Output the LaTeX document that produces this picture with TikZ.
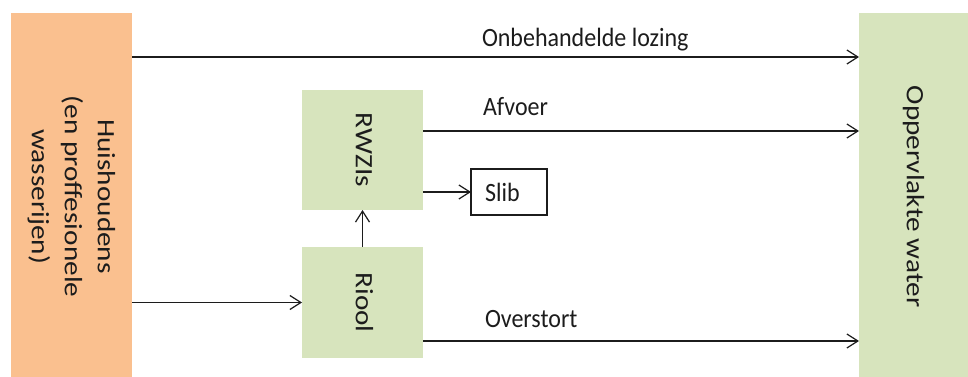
\documentclass[tikz,border=0pt]{standalone}
\usepackage{fontspec}
\usepackage{graphicx}
\setmainfont{Carlito}
\usetikzlibrary{arrows.meta}
\definecolor{orng}{HTML}{FAC08F}
\definecolor{grn}{HTML}{D7E4BD}
\definecolor{ink}{HTML}{1C1C1C}
\newcommand{\vtext}[1]{\rotatebox{-90}{\scalebox{1.17}[1]{\fontsize{25}{33}\selectfont\begin{tabular}{@{}c@{}}#1\end{tabular}}}}
\newcommand{\htext}[1]{\scalebox{1}[1.1]{\fontsize{24}{29}\selectfont #1}}
\begin{document}
\begin{tikzpicture}[x=1pt,y=-1pt,
  box/.style={rectangle, inner sep=0pt, outer sep=0pt, text=ink},
  flow/.style={draw=ink, line width=1.2pt, -{Straight Barb[length=11pt,width=14pt,line width=1.2pt]}},
  lbl/.style={inner sep=0pt, outer sep=0pt, anchor=base west, text=ink}]
\useasboundingbox (0,0) rectangle (968,377);
\fill[white] (0,0) rectangle (968,377);
\clip (0,0) rectangle (968,377);
\node[box, fill=orng, minimum width=121pt, minimum height=367pt] (H) at (71.5,196.5)
  {\vtext{Huishoudens\\(en proffesionele\\wasserijen)}};
\node[box, fill=grn, minimum width=109pt, minimum height=367pt] (W) at (913.5,196.5)
  {\vtext{Oppervlakte water}};
\node[box, fill=grn, minimum width=121pt, minimum height=120pt] (Z) at (362.5,150)
  {\vtext{RWZIs}};
\node[box, fill=grn, minimum width=121pt, minimum height=111pt] (R) at (362.5,302.5)
  {\vtext{Riool}};
\node[box, draw=ink, line width=1.2pt, fill=white, minimum height=46pt, text width=48pt,
  inner xsep=14pt, align=left] (S) at (509,192) {\htext{Slib}};
\node[lbl] (l1) at (482,47) {\htext{Onbehandelde lozing}};
\node[lbl] (l2) at (483,116) {\htext{Afvoer}};
\node[lbl] (l3) at (485,327) {\htext{Overstort}};
\draw[flow] (H.east |- 0,57) -- (W.west |- 0,57);
\draw[flow] (Z.east |- 0,131) -- (W.west |- 0,131);
\draw[flow] (Z.east |- S.west) -- (S.west);
\draw[flow] (R.north) -- (Z.south);
\draw[flow] (H.east |- R.west) -- (R.west);
\draw[flow] (R.east |- 0,341) -- (W.west |- 0,341);
\end{tikzpicture}
\end{document}
